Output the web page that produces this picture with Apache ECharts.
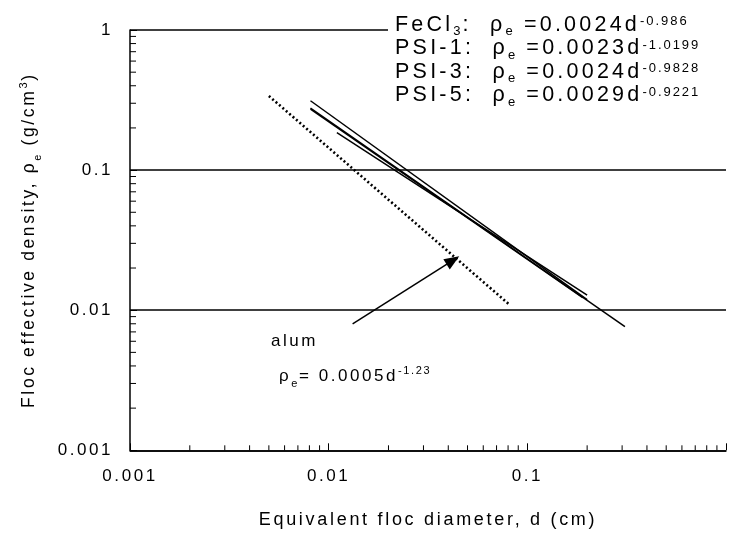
<!DOCTYPE html>
<html>
<head>
<meta charset="utf-8">
<script src="https://cdn.jsdelivr.net/npm/echarts@6/dist/echarts.min.js"></script>
<style>
  html, body { margin: 0; padding: 0; background: #fff; }
  #chart { width: 729px; height: 535px; }
</style>
</head>
<body>
<div id="chart"></div>
<script>
// Effective floc density versus equivalent floc diameter (log-log)
const xTickLabels = ['0.001', '0.01', '0.1'];
const yTickLabels = ['0.001', '0.01', '0.1', '1'];

const seriesNames = ['FeCl3', 'PSI-1', 'PSI-3', 'PSI-5'];
const seriesCoef = ['0.0024', '0.0023', '0.0024', '0.0029'];
const seriesExp = ['-0.986', '-1.0199', '-0.9828', '-0.9221'];

// end points of each fitted line: [diameter d (cm), density ρe (g/cm³)]
const fecl3Line = [[0.0081, 0.277], [0.31, 0.00762]];
const psi1Line = [[0.0081, 0.3126], [0.2, 0.01188]];
const psi3Line = [[0.0081, 0.2727], [0.19, 0.01227]];
const psi5Line = [[0.011, 0.1855], [0.2, 0.01279]];
const alumLine = [[0.005, 0.3383], [0.082, 0.01084]];
const alumArrow = [[0.0132, 0.00798], [0.0422, 0.0227]];

// minor log ticks (2..9 within each decade)
const minorMantissas = [2, 3, 4, 5, 6, 7, 8, 9];
const xDecades = [0.001, 0.01, 0.1];
const yDecades = [0.001, 0.01, 0.1];

const xMin = 0.001, xMax = 1, yMin = 0.001, yMax = 1;

const minorX = [];
xDecades.forEach(d => minorMantissas.forEach(m => minorX.push(+(m * d).toPrecision(3))));
const minorY = [];
yDecades.forEach(d => minorMantissas.forEach(m => minorY.push(+(m * d).toPrecision(3))));

// widely tracked lettering: add spacing proportional to the font size
(function () {
  const proto = CanvasRenderingContext2D.prototype;
  if (!('letterSpacing' in proto)) return;
  const TRACK = 0.15;
  function track(ctx) {
    const m = /(\d+(?:\.\d+)?)px/.exec(ctx.font);
    const size = m ? parseFloat(m[1]) : 12;
    ctx.letterSpacing = (size * TRACK).toFixed(2) + 'px';
  }
  const measure = proto.measureText, fill = proto.fillText, stroke = proto.strokeText;
  proto.measureText = function (t) { track(this); return measure.call(this, t); };
  proto.fillText = function () { track(this); return fill.apply(this, arguments); };
  proto.strokeText = function () { track(this); return stroke.apply(this, arguments); };
})();

const FONT = 'Liberation Sans, Arial, Helvetica, sans-serif';
// rich-text styles: normal, subscript and superscript runs
function richSet(size, lh) {
  const small = Math.round(size * 0.62);
  return {
    n:   { fontFamily: FONT, fontSize: size, color: '#000', lineHeight: lh },
    sub: { fontFamily: FONT, fontSize: small, color: '#000', verticalAlign: 'bottom', lineHeight: 2,
           padding: [0, 0, -Math.round(size * 0.2), 0] },
    sup: { fontFamily: FONT, fontSize: small, color: '#000', verticalAlign: 'top', lineHeight: Math.round(small * 0.8) }
  };
}
const legendRich = richSet(21.5, 21);
const nameRich = richSet(17.5, 22);
const noteRich = richSet(17, 22);

function tickLabel(list) {
  return v => {
    const s = String(+(+v).toPrecision(3));
    return list.indexOf(s) >= 0 ? s : '';
  };
}

function legendText(name) {
  const i = seriesNames.indexOf(name);
  const head = name === 'FeCl3' ? '{n|FeCl}{sub|3}{n|:  }' : '{n|' + name + ':  }';
  return head + '{n|ρ}{sub|e}{n| =' + seriesCoef[i] + 'd}{sup|' + seriesExp[i] + '}';
}

function minorTicks(values, onX) {
  return {
    type: 'custom',
    silent: true,
    z: 3,
    data: values.map(v => onX ? [v, yMin] : [xMin, v]),
    renderItem: (params, api) => {
      const p = api.coord([api.value(0), api.value(1)]);
      return {
        type: 'line',
        shape: onX
          ? { x1: p[0], y1: p[1], x2: p[0], y2: p[1] - 5 }
          : { x1: p[0], y1: p[1], x2: p[0] + 6, y2: p[1] },
        style: { stroke: '#000', lineWidth: 1 }
      };
    }
  };
}

function fitLine(name, data) {
  return {
    name, type: 'line', data, symbol: 'none', silent: true,
    lineStyle: { color: '#000', width: 1.5 }, z: 5
  };
}

const chart = echarts.init(document.getElementById('chart'), null, { renderer: 'canvas' });

chart.setOption({
  animation: false,
  backgroundColor: '#fff',
  grid: { left: 130, right: 0, top: 30, bottom: 76, containLabel: false },
  xAxis: {
    type: 'log', min: xMin, max: xMax, logBase: 10,
    name: 'Equivalent floc diameter, d (cm)',
    nameLocation: 'middle', nameGap: 59,
    nameTextStyle: { fontFamily: FONT, fontSize: 18, color: '#000' },
    axisLine: { lineStyle: { color: '#000', width: 1.5 } },
    axisTick: { inside: true, length: 7, lineStyle: { color: '#000' } },
    axisLabel: { fontFamily: FONT, fontSize: 17, color: '#000', margin: 16, formatter: tickLabel(xTickLabels) },
    splitLine: { show: false }
  },
  yAxis: {
    type: 'log', min: yMin, max: yMax, logBase: 10,
    name: '{n|Floc effective density, ρ}{sub|e}{n| (g/cm}{sup|3}{n|)}',
    nameLocation: 'middle', nameGap: 90, nameRotate: 90,
    nameTextStyle: { rich: nameRich },
    axisLine: { lineStyle: { color: '#000', width: 1.5 } },
    axisTick: { inside: true, length: 7, lineStyle: { color: '#000' } },
    axisLabel: { fontFamily: FONT, fontSize: 17, color: '#000', margin: 17, formatter: tickLabel(yTickLabels) },
    splitLine: { show: true, lineStyle: { color: '#000', width: 1.5 } }
  },
  legend: {
    data: seriesNames,
    orient: 'vertical',
    left: 388, top: 12,
    icon: 'none', itemWidth: 0, itemHeight: 10, itemGap: -3.5,
    backgroundColor: '#fff',
    padding: [0, 40, 0, 2],
    selectedMode: false,
    formatter: legendText,
    textStyle: { rich: legendRich }
  },
  series: [
    fitLine('FeCl3', fecl3Line),
    fitLine('PSI-1', psi1Line),
    fitLine('PSI-3', psi3Line),
    fitLine('PSI-5', psi5Line),
    {
      name: 'alum', type: 'line', data: alumLine, symbol: 'none', silent: true, z: 5,
      lineStyle: { color: '#000', width: 2.6, type: [2, 2.5] },
      markLine: {
        silent: true, symbol: ['none', 'triangle'], symbolSize: [12, 15],
        lineStyle: { color: '#000', width: 1.5, type: 'solid' },
        label: { show: false },
        data: [[{ coord: alumArrow[0] }, { coord: alumArrow[1] }]]
      }
    },
    minorTicks(minorX, true),
    minorTicks(minorY, false)
  ],
  graphic: [
    { type: 'text', left: 271, top: 332, style: { text: 'alum', font: '17px ' + FONT, fill: '#000' } },
    { type: 'text', left: 279, top: 365, style: { text: '{n|ρ}{sub|e}{n|= 0.0005d}{sup|-1.23}', rich: noteRich } }
  ]
});
</script>
</body>
</html>
